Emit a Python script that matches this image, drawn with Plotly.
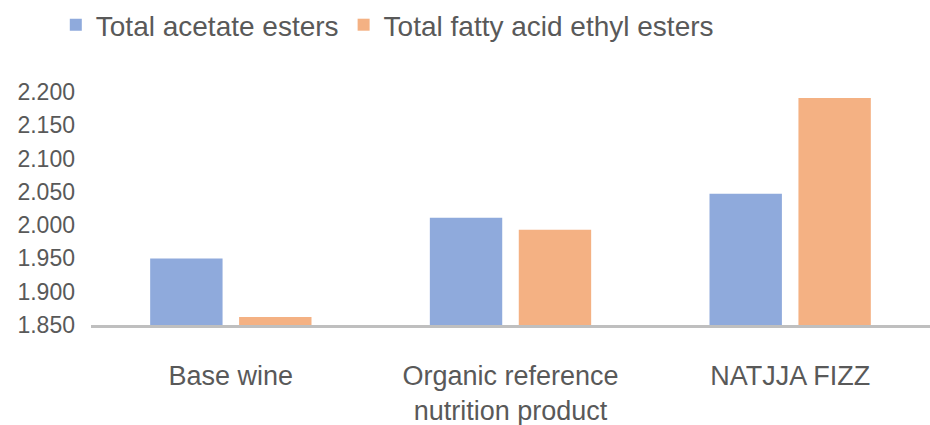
import plotly.graph_objects as go

categories = ["Base wine", "Organic reference<br>nutrition product", "NATJJA FIZZ"]
acetate_esters = [1.950, 2.011, 2.047]
fatty_acid_ethyl_esters = [1.862, 1.993, 2.191]
series_names = ["Total acetate esters", "Total fatty acid ethyl esters"]
y_ticks = [1.85, 1.90, 1.95, 2.00, 2.05, 2.10, 2.15, 2.20]

FONT = "Liberation Sans, Arial, sans-serif"
GRAY = "#595959"

fig = go.Figure()
fig.add_trace(go.Bar(x=categories, y=acetate_esters, name=series_names[0],
                     marker=dict(color="#8faadc", line=dict(width=0))))
fig.add_trace(go.Bar(x=categories, y=fatty_acid_ethyl_esters, name=series_names[1],
                     marker=dict(color="#f4b183", line=dict(width=0))))

fig.update_layout(
    width=930, height=425,
    margin=dict(l=91, r=0, t=92, b=100, autoexpand=False),
    paper_bgcolor="white", plot_bgcolor="white",
    barmode="group", bargap=0.364, bargroupgap=0.186,
    font=dict(family=FONT, color=GRAY),
    showlegend=True,
    legend=dict(orientation="h", xref="container", yref="container",
                x=0.06, y=1.0, xanchor="left", yanchor="top",
                font=dict(size=28, color=GRAY), itemwidth=30,
                traceorder="normal", tracegroupgap=0),
    xaxis=dict(showline=True, linecolor="#bfbfbf", linewidth=2.5,
               showgrid=False, ticks="", tickfont=dict(size=27, color=GRAY),
               ticklabelstandoff=25, fixedrange=True, automargin=False),
    yaxis=dict(range=[1.85, 2.2], tickvals=y_ticks, tickformat=".3f",
               showgrid=False, showline=False, zeroline=False, ticks="",
               tickfont=dict(size=23, color=GRAY), ticklabelstandoff=15,
               automargin=False),
)

fig.write_html("out.html", config={"displayModeBar": False},
               post_script="document.body.style.margin='0';")
